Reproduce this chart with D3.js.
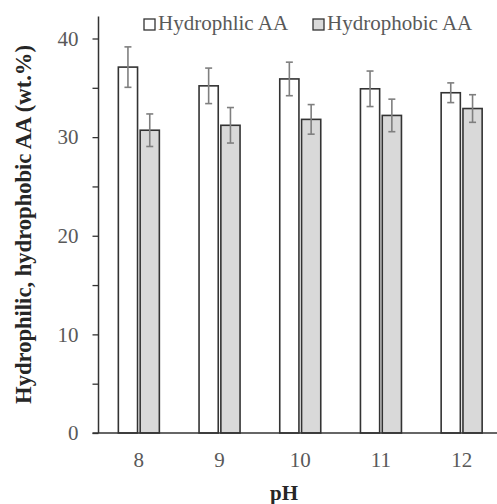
<!DOCTYPE html>
<html>
<head>
<meta charset="utf-8">
<script src="https://cdn.jsdelivr.net/npm/d3@7"></script>
<style>
  body { margin: 0; background: #fff; }
  svg { display: block; font-family: "Liberation Serif", "Times New Roman", serif; }
</style>
</head>
<body>
<div id="chart"></div>
<script>
// pH categories
const phLevels = ['8', '9', '10', '11', '12'];
const seriesNames = ['Hydrophlic AA', 'Hydrophobic AA'];
// mean values (wt.%)
const hydrophilic = [37.1, 35.2, 35.9, 34.9, 34.5];
const hydrophobic = [30.7, 31.2, 31.8, 32.2, 32.9];
// error bar half-widths
const hydrophilicErr = [2.05, 1.8, 1.7, 1.8, 1.0];
const hydrophobicErr = [1.65, 1.8, 1.5, 1.65, 1.4];
const yTicks = [0, 10, 20, 30, 40];

const width = 497, height = 504;
const margin = { top: 38, right: -5, bottom: 71, left: 98.5 };
const serif = '"Liberation Serif", "Times New Roman", serif';

const svg = d3.select('#chart').append('svg')
    .attr('width', width)
    .attr('height', height);

const x = d3.scaleBand()
    .domain(phLevels)
    .range([margin.left, width - margin.right]);

const x1 = d3.scaleBand()
    .domain(seriesNames)
    .range([0, 41])
    .paddingInner(0.12);

const y = d3.scaleLinear()
    .domain([0, 40])
    .range([height - margin.bottom, 38.5]);

const rows = phLevels.map((p, i) => ({
    ph: p,
    values: [
        { name: seriesNames[0], v: hydrophilic[i], e: hydrophilicErr[i], fill: '#ffffff' },
        { name: seriesNames[1], v: hydrophobic[i], e: hydrophobicErr[i], fill: '#d9d9d9' }
    ]
}));

// bars
const groups = svg.append('g').selectAll('g')
    .data(rows)
    .join('g')
    .attr('transform', d => `translate(${x(d.ph) + x.bandwidth() / 2 - 20.5},0)`);

groups.selectAll('rect')
    .data(d => d.values)
    .join('rect')
    .attr('x', d => x1(d.name))
    .attr('y', d => y(d.v))
    .attr('width', x1.bandwidth())
    .attr('height', d => y(0) - y(d.v))
    .attr('fill', d => d.fill)
    .attr('stroke', '#333')
    .attr('stroke-width', 1.6);

// error bars
const err = groups.selectAll('g.err')
    .data(d => d.values)
    .join('g')
    .attr('class', 'err')
    .attr('stroke', '#7f7f7f')
    .attr('stroke-width', 1.6);
err.append('line')
    .attr('x1', d => x1(d.name) + x1.bandwidth() / 2)
    .attr('x2', d => x1(d.name) + x1.bandwidth() / 2)
    .attr('y1', d => y(d.v + d.e))
    .attr('y2', d => y(d.v - d.e));
err.selectAll('line.cap')
    .data(d => [d.v + d.e, d.v - d.e].map(t => ({ name: d.name, t })))
    .join('line')
    .attr('class', 'cap')
    .attr('x1', d => x1(d.name) + x1.bandwidth() / 2 - 3.5)
    .attr('x2', d => x1(d.name) + x1.bandwidth() / 2 + 3.5)
    .attr('y1', d => y(d.t))
    .attr('y2', d => y(d.t));

// y axis
const yAxis = svg.append('g')
    .attr('transform', `translate(${margin.left},0)`)
    .call(d3.axisLeft(y).tickValues(d3.range(0, 41, 5)).tickSize(6).tickSizeOuter(0)
        .tickFormat(d => yTicks.includes(d) ? d : ''));
yAxis.select('.domain').attr('stroke', '#333').attr('stroke-width', 1.5)
    .attr('d', `M0,${y(0)}V${y(40) - 22}`);
yAxis.selectAll('.tick line').attr('stroke', '#333').attr('stroke-width', 1.3);
yAxis.selectAll('.tick text')
    .attr('x', -20)
    .attr('fill', '#595959')
    .style('font-size', '21px')
    .style('font-family', serif);

// x axis
const xAxis = svg.append('g')
    .attr('transform', `translate(0,${y(0)})`)
    .call(d3.axisBottom(x).tickSize(0).tickSizeOuter(0));
xAxis.select('.domain').attr('stroke', '#333').attr('stroke-width', 1.5)
    .attr('d', `M${margin.left - 6},0H${width}`);
xAxis.selectAll('.tick text')
    .attr('y', 19)
    .attr('fill', '#595959')
    .style('font-size', '21px')
    .style('font-family', serif);

// axis titles
svg.append('text')
    .attr('x', 284)
    .attr('y', 500)
    .attr('text-anchor', 'middle')
    .attr('font-weight', 'bold')
    .attr('font-size', 21)
    .attr('fill', '#262626')
    .text('pH');

svg.append('text')
    .attr('transform', `translate(31,224.5) rotate(-90)`)
    .attr('text-anchor', 'middle')
    .attr('font-weight', 'bold')
    .attr('font-size', 22.6)
    .attr('fill', '#262626')
    .text('Hydrophilic, hydrophobic AA (wt.%)');

// legend
const legendX = [144, 313];
const legend = svg.append('g').selectAll('g')
    .data(rows[0].values)
    .join('g')
    .attr('transform', (d, i) => `translate(${legendX[i]},19)`);
legend.append('rect')
    .attr('width', 11)
    .attr('height', 11)
    .attr('fill', d => d.fill)
    .attr('stroke', '#333')
    .attr('stroke-width', 1.3);
legend.append('text')
    .attr('x', 14)
    .attr('y', 11)
    .attr('fill', '#595959')
    .attr('font-size', 21)
    .text(d => d.name);
</script>
</body>
</html>
